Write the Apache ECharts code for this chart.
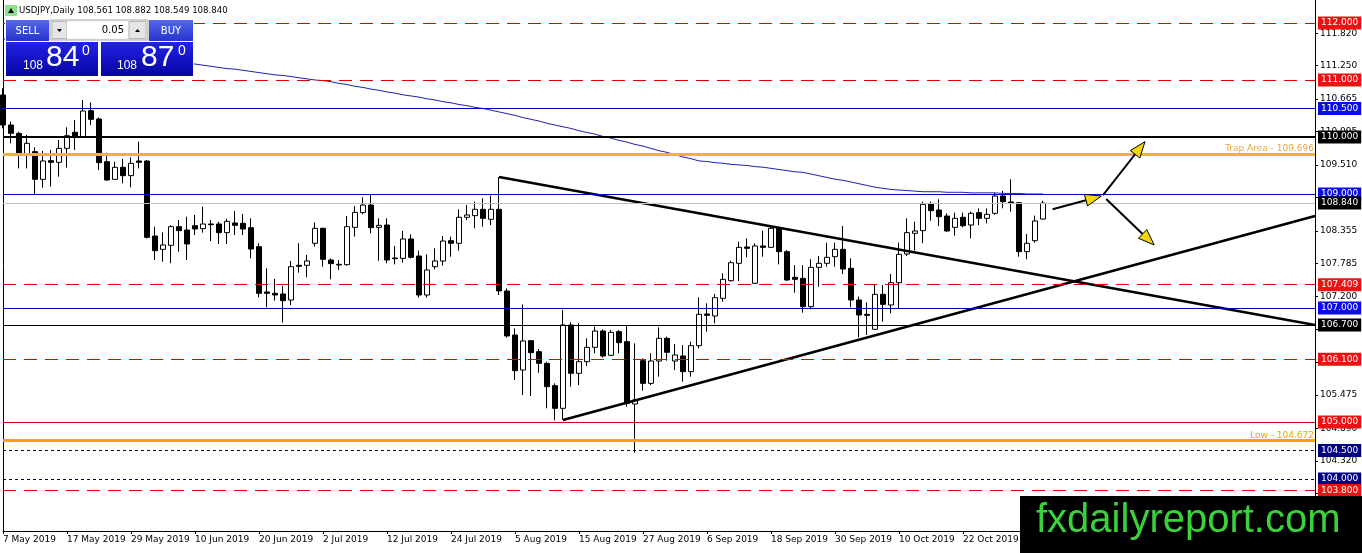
<!DOCTYPE html>
<html>
<head>
<meta charset="utf-8">
<title>USDJPY Daily</title>
<script src="https://cdn.jsdelivr.net/npm/echarts@6/dist/echarts.min.js"></script>
<style>
html,body{margin:0;padding:0;background:#fff;}
#chart{width:1362px;height:553px;}
</style>
</head>
<body>
<div id="chart"></div>
<script>
// ---------------- DATA ----------------
const symbolName = 'USDJPY,Daily';
const dateLabels = ['7 May 2019','17 May 2019','29 May 2019','10 Jun 2019','20 Jun 2019','2 Jul 2019',
  '12 Jul 2019','24 Jul 2019','5 Aug 2019','15 Aug 2019','27 Aug 2019','6 Sep 2019',
  '18 Sep 2019','30 Sep 2019','10 Oct 2019','22 Oct 2019'];
const slotCount = 165;

const openP = [
 110.737,110.21,110.064,109.69,109.743,109.257,109.585,109.556,109.801,110.082,
 110.006,110.462,110.316,109.567,109.257,109.468,109.322,109.579,109.579,108.263,
 108.029,108.1,108.427,108.368,108.444,108.392,108.474,108.474,108.322,108.491,
 108.485,108.409,108.076,107.281,107.257,107.246,107.14,107.749,107.749,108.135,
 108.398,107.842,107.754,107.76,108.415,108.673,108.807,108.415,108.456,107.877,
 107.871,108.211,107.912,107.228,107.725,107.824,108.181,108.135,108.591,108.62,
 108.731,108.556,108.731,107.298,106.526,105.912,106.427,106.234,106.029,105.637,
 105.24,106.702,105.854,106.058,106.31,106.596,106.17,106.585,106.41,105.316,
 106.076,105.678,106.07,106.468,106.07,106.158,105.883,106.339,106.895,106.86,
 107.17,107.479,107.784,108.07,107.433,108.088,108.064,108.398,107.988,107.538,
 107.52,107.023,107.713,107.784,107.9,108.029,107.696,107.14,106.889,106.626,
 107.24,107.053,107.444,107.947,108.31,108.357,108.825,108.719,108.614,108.415,
 108.591,108.456,108.673,108.573,108.661,108.965,108.86,108.848,107.988,108.181,
 108.561];
const highP = [
 110.854,110.27,110.094,110.035,109.819,109.754,109.772,109.947,110.17,110.298,
 110.649,110.608,110.345,109.725,109.567,109.614,109.643,109.918,109.596,108.427,
 108.327,108.456,108.544,108.602,108.632,108.778,108.544,108.515,108.567,108.702,
 108.649,108.573,108.135,107.696,107.509,107.386,107.824,108.135,107.93,108.503,
 108.41,107.871,107.842,108.614,108.789,108.942,108.983,108.573,108.573,108.088,
 108.351,108.292,108.006,107.942,108.047,108.263,108.252,108.731,108.807,108.866,
 108.924,108.971,109.298,107.345,106.643,107.064,106.439,106.281,106.058,105.678,
 106.965,106.749,106.731,106.468,106.673,106.626,106.614,106.614,106.702,106.38,
 106.117,106.205,106.661,106.497,106.368,106.351,106.41,107.187,107.082,107.246,
 107.608,107.83,108.164,108.222,108.135,108.357,108.439,108.427,108.017,107.754,
 107.754,107.854,107.912,108.146,108.146,108.439,107.871,107.199,107.099,107.421,
 107.404,107.597,108.146,108.573,108.515,108.866,108.866,108.907,108.661,108.673,
 108.673,108.69,108.749,108.749,109.023,109.053,109.257,108.854,108.298,108.62,
 108.882];
const lowP = [
 110.152,109.889,109.45,109.45,108.982,109.111,109.129,109.304,109.462,109.772,
 110.006,110.21,109.42,109.234,109.257,109.187,109.117,109.45,108.222,107.842,
 107.813,107.784,107.988,107.842,108.281,108.322,108.175,108.123,108.123,108.281,
 108.281,107.871,107.187,107.012,107.129,106.743,107.053,107.62,107.538,108.076,
 107.725,107.503,107.667,107.743,108.252,108.643,108.31,107.83,107.784,107.766,
 107.795,107.871,107.181,107.181,107.678,107.743,107.9,108.006,108.544,108.398,
 108.427,108.456,107.228,106.48,105.737,105.474,105.456,105.865,105.24,105.03,
 105.035,105.62,105.649,105.982,106.205,106.129,106.158,106.205,105.269,104.46,
 105.55,105.649,105.795,106.076,105.912,105.708,105.795,106.292,106.585,106.731,
 107.111,107.462,107.474,107.889,107.42,107.9,108.058,107.766,107.474,107.269,
 106.918,106.977,107.374,107.725,107.725,107.597,107.012,106.485,106.526,106.614,
 106.76,106.906,106.994,107.912,108.006,108.135,108.532,108.439,108.339,108.269,
 108.415,108.222,108.456,108.485,108.632,108.749,108.69,107.9,107.854,108.146,
 108.549];
const closeP = [
 110.21,110.064,109.70,109.889,109.257,109.579,109.556,109.801,110.023,109.994,
 110.456,110.31,109.55,109.246,109.468,109.322,109.538,109.556,108.24,108.006,
 108.105,108.427,108.357,108.123,108.386,108.474,108.462,108.322,108.52,108.45,
 108.386,108.035,107.257,107.257,107.228,107.129,107.725,107.731,107.825,108.398,
 107.854,107.778,107.766,108.427,108.678,108.807,108.409,108.45,107.842,107.865,
 108.211,107.889,107.228,107.667,107.824,108.175,108.135,108.591,108.632,108.731,
 108.573,108.731,107.3,106.509,105.901,106.421,106.216,106.029,105.62,105.24,
 106.702,105.854,106.058,106.31,106.596,106.158,106.573,106.392,105.328,105.386,
 105.678,106.07,106.468,106.222,106.176,105.883,106.339,106.889,106.871,107.181,
 107.503,107.795,108.064,108.047,108.088,108.064,108.398,107.988,107.491,107.503,
 107.023,107.713,107.784,107.889,108.029,107.684,107.14,106.877,106.871,107.24,
 107.064,107.444,107.942,108.322,108.351,108.819,108.708,108.602,108.351,108.573,
 108.444,108.661,108.573,108.643,108.965,108.866,108.836,107.988,108.135,108.526,
 108.84];
const maValues = [
 111.72,111.70,111.68,111.66,111.65,111.63,111.61,111.59,111.57,111.55,
 111.54,111.52,111.50,111.48,111.46,111.44,111.42,111.41,111.39,111.37,
 111.35,111.33,111.31,111.30,111.28,111.26,111.24,111.22,111.20,111.19,
 111.17,111.15,111.13,111.11,111.09,111.08,111.06,111.04,111.02,111.00,
 110.99,110.97,110.94,110.92,110.89,110.87,110.84,110.82,110.79,110.77,
 110.74,110.72,110.70,110.67,110.65,110.62,110.60,110.57,110.55,110.52,
 110.50,110.47,110.44,110.41,110.38,110.34,110.31,110.28,110.24,110.21,
 110.18,110.15,110.11,110.08,110.05,110.01,109.98,109.94,109.91,109.87,
 109.84,109.80,109.76,109.73,109.69,109.65,109.62,109.58,109.57,109.55,
 109.54,109.52,109.51,109.50,109.48,109.47,109.45,109.43,109.41,109.39,
 109.38,109.35,109.32,109.29,109.26,109.24,109.21,109.18,109.15,109.12,
 109.10,109.08,109.07,109.06,109.05,109.04,109.04,109.04,109.03,109.03,
 109.03,109.02,109.02,109.02,109.02,109.01,109.01,109.01,109.00,109.00,
 109.00];

const levelValues = [112.0,111.0,110.5,110.0,109.696,109.0,108.84,107.409,107.0,106.7,106.1,105.0,104.672,104.5,104.0,103.8];
const trapText = 'Trap Area - 109.696';
const lowText = 'Low - 104.672';
const priceTicks = [111.82,111.25,110.665,110.095,109.51,108.94,108.355,107.785,107.2,106.63,106.045,105.475,104.89,104.32,103.75];
const downTrend = [[62,109.298],[164,106.702]];
const upTrend = [[70,105.035],[164,108.614]];
const arrowFrom = [[131.2,108.732],[137.5,108.982],[137.9,108.912]];
const arrowTo   = [[137.3,108.965],[142.75,109.918],[143.9,108.105]];
const lotSize = '0.05';
const bidQuote = ['108','84','0'];
const askQuote = ['108','87','0'];

// ---------------- CHART ----------------
const yMin = 103.0877, yMax = 112.4035;
const cats = Array.from({length: slotCount}, (_, i) => String(i));
const candles = openP.map((o, i) => [o, closeP[i], lowP[i], highP[i]]);

const kinds = ['res','res','blue','black','trap','blue','price','res','blue','thin','res','red','low','dot','dot','res'];
const kindStyle = {
  res:   {line:{color:'#e00000', type:[13,8], width:1}, bg:'#ee1111'},
  red:   {line:{color:'#e00000', type:'solid', width:1}, bg:'#ee1111'},
  blue:  {line:{color:'#0000c8', type:'solid', width:1}, bg:'#0c0ce8'},
  black: {line:{color:'#000000', type:'solid', width:2}, bg:'#000000'},
  thin:  {line:{color:'#000000', type:'solid', width:1}, bg:'#000000'},
  price: {line:{color:'#c0c0c0', type:'solid', width:1}, bg:'#000000'},
  trap:  {line:{color:'#f0b040', type:'solid', width:3}},
  low:   {line:{color:'#ffa200', type:'solid', width:3}},
  dot:   {line:{color:'#000033', type:[3,3], width:1}, bg:'#000080'}
};
const markData = levelValues.map((v, i) => {
  const k = kinds[i], s = kindStyle[k];
  const item = {yAxis: v, lineStyle: s.line};
  if (k === 'trap' || k === 'low') {
    item.label = {show:true, position:'insideEndTop', distance:1, formatter: k === 'trap' ? trapText : lowText,
      color: k === 'trap' ? '#e8a838' : '#f0a020', fontSize:9, fontFamily:'DejaVu Sans'};
  } else {
    item.label = {show:true, position:'end', distance:3, formatter: v.toFixed(3),
      color:'#fff', backgroundColor:s.bg, padding:[1,3,0,3], fontSize:9, lineHeight:12, fontFamily:'DejaVu Sans'};
  }
  return item;
});

function pt(api, p) {
  const i0 = Math.floor(p[0]);
  const c0 = api.coord([i0, p[1]]);
  const c1 = api.coord([i0 + 1, p[1]]);
  return [c0[0] + (p[0] - i0) * (c1[0] - c0[0]), c0[1]];
}

function txt(x, y, text, font, fill, align) {
  return {type: 'text', z: 102, style: {x: x, y: y, text: text, fill: fill, font: font,
    align: align || 'left', textAlign: align || 'left', verticalAlign: 'middle', textVerticalAlign: 'middle'}};
}

const blueBtn = () => new echarts.graphic.LinearGradient(0, 0, 0, 1, [{offset: 0, color: '#5566ee'}, {offset: 1, color: '#2535cc'}]);
const blueBox = () => new echarts.graphic.LinearGradient(0, 0, 0, 1, [{offset: 0, color: '#2222e6'}, {offset: 1, color: '#0606a2'}]);

const chart = echarts.init(document.getElementById('chart'), null, {renderer:'canvas'});
const option = {
  animation: false,
  backgroundColor: '#ffffff',
  grid: {left: 3, right: 47, top: 0, bottom: 22, containLabel: false},
  xAxis: {
    type: 'category', data: cats, boundaryGap: false,
    axisLine: {show: true, lineStyle: {color: '#000', width: 1}},
    axisTick: {show: true, interval: (i) => i % 8 === 0, length: 3, lineStyle: {color: '#000'}},
    axisLabel: {interval: (i) => i % 8 === 0, formatter: (v, i) => dateLabels[i / 8] || '',
      align: 'left', margin: 4, fontSize: 9, fontFamily: 'DejaVu Sans', color: '#000'},
    splitLine: {show: false}
  },
  yAxis: [{
    type: 'value', position: 'right', min: yMin, max: yMax,
    axisLine: {show: true, lineStyle: {color: '#000', width: 1}},
    axisTick: {show: true, customValues: priceTicks, length: 3, lineStyle: {color: '#000'}},
    axisLabel: {show: true, customValues: priceTicks, formatter: (v) => v.toFixed(3), margin: 5,
      fontSize: 9, fontFamily: 'DejaVu Sans', color: '#000'},
    splitLine: {show: false}
  }, {
    type: 'value', position: 'left', min: yMin, max: yMax,
    axisLine: {show: true, lineStyle: {color: '#000', width: 1}},
    axisTick: {show: false}, axisLabel: {show: false}, splitLine: {show: false}
  }],
  series: [
    {
      type: 'candlestick', data: candles, barWidth: 5, z: 2,
      itemStyle: {color: '#ffffff', color0: '#000000', borderColor: '#000000', borderColor0: '#000000', borderWidth: 1}
    },
    {
      type: 'line', data: maValues, showSymbol: false, symbol: 'none', z: 3, silent: true,
      lineStyle: {color: '#2020b0', width: 1},
      markLine: {symbol: ['none','none'], silent: true, animation: false, precision: 3, data: markData}
    },
    {
      type: 'line', data: downTrend, symbol: 'none', z: 4, silent: true,
      lineStyle: {color: '#000', width: 2.5}
    },
    {
      type: 'line', data: upTrend, symbol: 'none', z: 4, silent: true,
      lineStyle: {color: '#000', width: 2.5}
    },
    {
      type: 'custom', z: 5, clip: false, silent: true,
      data: arrowFrom.map((a, i) => [i, a[1]]),
      renderItem: (params, api) => {
        const a = pt(api, arrowFrom[params.dataIndex]);
        const b = pt(api, arrowTo[params.dataIndex]);
        const dx = b[0] - a[0], dy = b[1] - a[1];
        const len = Math.sqrt(dx * dx + dy * dy);
        const ux = dx / len, uy = dy / len;
        const hl = 16, hw = 6;
        const bx = b[0] - ux * hl, by = b[1] - uy * hl;
        return {
          type: 'group', children: [
            {type: 'line', shape: {x1: a[0], y1: a[1], x2: bx, y2: by}, style: {stroke: '#000', lineWidth: 2}},
            {type: 'polygon', shape: {points: [[b[0], b[1]], [bx - uy * hw, by + ux * hw], [bx + uy * hw, by - ux * hw]]},
              style: {fill: '#f5d60a', stroke: '#000', lineWidth: 1}}
          ]
        };
      }
    }
  ],
  graphic: [
    // header
    {type: 'rect', z: 100, shape: {x: 5, y: 5, width: 12, height: 11}, style: {fill: '#8fe08f'}},
    {type: 'polygon', z: 101, shape: {points: [[8, 13], [14, 13], [11, 8]]}, style: {fill: '#000'}},
    txt(19, 11, symbolName + ' ' + [openP, highP, lowP, closeP].map(a => a[a.length - 1].toFixed(3)).join(' '), '8.6px "DejaVu Sans"', '#000'),
    // trade panel
    {type: 'rect', z: 100, shape: {x: 5, y: 19, width: 189, height: 58}, style: {fill: '#ffffff'}},
    {type: 'rect', z: 101, shape: {x: 6, y: 20, width: 43, height: 21}, style: {fill: blueBtn()}},
    {type: 'rect', z: 101, shape: {x: 149, y: 20, width: 44, height: 21}, style: {fill: blueBtn()}},
    txt(27.5, 31, 'SELL', '10px "DejaVu Sans"', '#fff', 'center'),
    txt(171, 31, 'BUY', '10px "DejaVu Sans"', '#fff', 'center'),
    {type: 'rect', z: 101, shape: {x: 50, y: 20, width: 98, height: 20}, style: {fill: '#f0f0f0', stroke: '#a8a8a8', lineWidth: 1}},
    {type: 'rect', z: 102, shape: {x: 52, y: 21.5, width: 15, height: 17}, style: {fill: '#e6e6e6', stroke: '#b8b8b8', lineWidth: 1}},
    {type: 'polygon', z: 103, shape: {points: [[57, 29], [62, 29], [59.5, 32]]}, style: {fill: '#000'}},
    {type: 'rect', z: 102, shape: {x: 67, y: 21.5, width: 61, height: 17}, style: {fill: '#ffffff'}},
    txt(124, 30.5, lotSize, '10px "DejaVu Sans"', '#000', 'right'),
    {type: 'rect', z: 102, shape: {x: 129, y: 21.5, width: 17, height: 17}, style: {fill: '#e6e6e6', stroke: '#b8b8b8', lineWidth: 1}},
    {type: 'polygon', z: 103, shape: {points: [[135, 32], [140, 32], [137.5, 29]]}, style: {fill: '#000'}},
    {type: 'rect', z: 101, shape: {x: 6, y: 42, width: 92, height: 34}, style: {fill: blueBox()}},
    {type: 'rect', z: 101, shape: {x: 101, y: 42, width: 92, height: 34}, style: {fill: blueBox()}},
    txt(23, 65.5, bidQuote[0], '12px "Liberation Sans"', '#fff'),
    txt(46, 57.5, bidQuote[1], '30px "Liberation Sans"', '#fff'),
    txt(82, 51.5, bidQuote[2], '14px "Liberation Sans"', '#fff'),
    txt(117, 65.5, askQuote[0], '12px "Liberation Sans"', '#fff'),
    txt(141, 57.5, askQuote[1], '30px "Liberation Sans"', '#fff'),
    txt(178, 51.5, askQuote[2], '14px "Liberation Sans"', '#fff'),
    // watermark
    {type: 'rect', z: 100, shape: {x: 1020, y: 496, width: 342, height: 57}, style: {fill: '#000'}},
    Object.assign(txt(1036, 521, 'fxdailyreport.com', '40px "Liberation Sans"', '#3ad23a'), {z: 101})
  ]
};
chart.setOption(option);
</script>
</body>
</html>
